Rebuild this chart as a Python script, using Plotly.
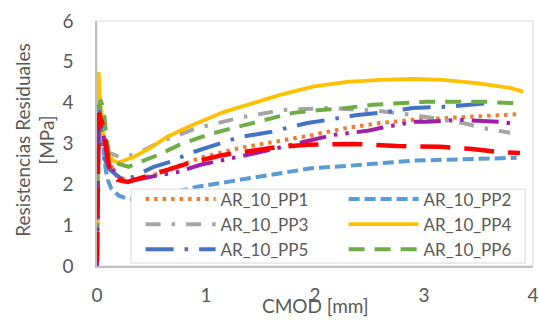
import plotly.graph_objects as go

# ---- data (CMOD [mm] vs residual strength [MPa]) ----
pp1_x = [0, 0.004, 0.02, 0.05, 0.1, 0.18, 0.3, 0.52, 0.75, 0.95, 1.31, 1.65, 1.98, 2.29, 2.6, 2.9, 3.17, 3.48, 3.79, 3.88]
pp1_y = [0, 2.0, 3.6, 3.1, 2.6, 2.2, 2.07, 2.23, 2.45, 2.65, 2.89, 3.04, 3.21, 3.38, 3.5, 3.58, 3.62, 3.65, 3.70, 3.72]

pp2_x = [0, 0.004, 0.02, 0.06, 0.08, 0.1, 0.13, 0.2, 0.3, 0.4, 0.61, 0.79, 0.92, 1.31, 1.68, 1.98, 2.29, 2.6, 2.9, 3.17, 3.48, 3.85]
pp2_y = [0, 2.0, 3.6, 2.9, 2.35, 2.1, 1.9, 1.72, 1.63, 1.63, 1.74, 1.86, 1.94, 2.11, 2.28, 2.4, 2.45, 2.52, 2.58, 2.6, 2.62, 2.65]

pp3_x = [0, 0.004, 0.025, 0.06, 0.1, 0.15, 0.21, 0.3, 0.4, 0.58, 0.76, 0.92, 1.34, 1.54, 1.71, 2.14, 2.57, 2.9, 3.15, 3.36, 3.54, 3.79]
pp3_y = [0, 2.2, 3.9, 3.0, 2.78, 2.72, 2.67, 2.7, 2.79, 3.04, 3.21, 3.38, 3.65, 3.75, 3.82, 3.87, 3.80, 3.70, 3.60, 3.50, 3.38, 3.26]

pp4_x = [0, 0.004, 0.014, 0.03, 0.06, 0.1, 0.14, 0.19, 0.33, 0.49, 0.64, 0.84, 1.16, 1.47, 1.68, 1.98, 2.29, 2.6, 2.9, 3.17, 3.48, 3.79, 3.91]
pp4_y = [0, 3.0, 4.75, 4.0, 3.2, 2.8, 2.6, 2.53, 2.66, 2.89, 3.16, 3.41, 3.77, 4.02, 4.19, 4.39, 4.51, 4.56, 4.58, 4.56, 4.48, 4.36, 4.27]

pp5_x = [0, 0.004, 0.02, 0.06, 0.12, 0.24, 0.33, 0.52, 0.67, 0.86, 1.31, 1.59, 1.74, 1.93, 2.12, 2.39, 2.66, 2.9, 3.21, 3.48, 3.6]
pp5_y = [0, 2.2, 3.95, 2.67, 2.35, 2.1, 2.18, 2.43, 2.55, 2.77, 3.16, 3.28, 3.38, 3.50, 3.58, 3.70, 3.77, 3.87, 3.90, 3.97, 3.99]

pp6_x = [0, 0.004, 0.03, 0.06, 0.08, 0.11, 0.2, 0.29, 0.4, 0.56, 0.76, 1.01, 1.29, 1.53, 1.8, 2.05, 2.29, 2.53, 2.8, 3.02, 3.3, 3.56, 3.81, 3.9]
pp6_y = [0, 2.5, 4.07, 3.87, 3.33, 2.72, 2.5, 2.43, 2.55, 2.72, 2.97, 3.21, 3.41, 3.58, 3.75, 3.82, 3.87, 3.95, 4.0, 4.02, 4.02, 4.02, 3.99, 3.97]

pp7_x = [0, 0.004, 0.015, 0.06, 0.1, 0.2, 0.3, 0.58, 0.74, 0.95, 1.31, 1.5, 1.93, 2.17, 2.48, 2.6, 2.9, 3.02, 3.33, 3.54, 3.69, 3.85]
pp7_y = [0, 2.0, 3.72, 3.2, 2.55, 2.15, 2.08, 2.23, 2.30, 2.48, 2.67, 2.79, 3.06, 3.21, 3.31, 3.38, 3.53, 3.53, 3.58, 3.55, 3.53, 3.48]

pp8_x = [0, 0.004, 0.015, 0.06, 0.1, 0.12, 0.19, 0.28, 0.64, 0.84, 1.16, 1.68, 1.93, 2.35, 2.75, 3.15, 3.42, 3.69, 3.88]
pp8_y = [0.1, 1.8, 3.75, 3.41, 2.6, 2.28, 2.11, 2.06, 2.35, 2.52, 2.72, 2.92, 2.97, 2.99, 2.94, 2.92, 2.87, 2.79, 2.77]

series_names = ["AR_10_PP1", "AR_10_PP2", "AR_10_PP3", "AR_10_PP4", "AR_10_PP5", "AR_10_PP6", "AR_10_PP7", "AR_10_PP8"]
series_x = [pp1_x, pp2_x, pp3_x, pp4_x, pp5_x, pp6_x, pp7_x, pp8_x]
series_y = [pp1_y, pp2_y, pp3_y, pp4_y, pp5_y, pp6_y, pp7_y, pp8_y]
series_color = ["#ED7D31", "#5B9BD5", "#A5A5A5", "#FFC000", "#4472C4", "#70AD47", "#A11FA6", "#FF0000"]
series_dash = ["3.5px,5px", "11px,5px", "15px,11px,3.5px,11px", "solid", "28px,11px,3.5px,11px",
               "16px,10px", "27px,8px,3.5px,8px,3.5px,8px", "30px,14px"]
series_width = [4, 4, 4, 3.8, 4, 4, 4, 4.5]
series_legend = [True, True, True, True, True, True, False, False]

tick_vals_x = [0, 1, 2, 3, 4]
tick_vals_y = [0, 1, 2, 3, 4, 5, 6]

FONT = "Lato"
TXT = "#595959"

fig = go.Figure()
for nm, xs, ys, c, d, w, sl in zip(series_names, series_x, series_y, series_color,
                                   series_dash, series_width, series_legend):
    fig.add_trace(go.Scatter(x=xs, y=ys, name=nm, mode="lines",
                             line=dict(color=c, dash=d, width=w),
                             showlegend=sl))

fig.update_layout(
    width=538, height=320,
    margin=dict(l=97, r=5, t=21, b=54, autoexpand=False),
    paper_bgcolor="white", plot_bgcolor="white",
    font=dict(family=FONT, color=TXT, size=19),
    showlegend=True,
    legend=dict(orientation="h", x=0.1, y=0.345, xanchor="left", yanchor="top",
                borderwidth=0, bgcolor="rgba(0,0,0,0)",
                font=dict(family=FONT, size=17, color=TXT),
                entrywidth=118, entrywidthmode="pixels", itemwidth=70,
                tracegroupgap=0),
    xaxis=dict(range=[0, 4], tickvals=tick_vals_x, showgrid=False, zeroline=False,
               showline=True, linecolor="#BFBFBF", linewidth=1.5,
               ticks="outside", ticklen=11, tickcolor="rgba(0,0,0,0)",
               ticklabeloverflow="allow",
               tickfont=dict(size=19, color=TXT, family=FONT)),
    yaxis=dict(range=[0, 6], tickvals=tick_vals_y, showgrid=False, zeroline=False,
               showline=True, linecolor="#BFBFBF", linewidth=1.5,
               ticks="outside", ticklen=18, tickcolor="rgba(0,0,0,0)",
               tickfont=dict(size=19, color=TXT, family=FONT)),
    shapes=[
        dict(type="rect", xref="paper", yref="paper", x0=0, x1=1, y0=0, y1=1,
             line=dict(color="#D9D9D9", width=1), layer="below"),
        dict(type="rect", xref="paper", yref="paper", x0=0.078, x1=0.982, y0=0.012, y1=0.314,
             line=dict(color="#D9D9D9", width=1), fillcolor="white", layer="above"),
    ],
    annotations=[
        dict(text="CMOD [mm]", xref="paper", yref="paper", x=0.5, y=-0.16,
             xanchor="center", yanchor="middle", showarrow=False,
             font=dict(size=19, color=TXT, family=FONT)),
        dict(text="Resistencias Residuales<br>[MPa]", xref="paper", yref="paper",
             x=-0.143, y=0.514, xanchor="center", yanchor="middle", textangle=-90,
             showarrow=False, font=dict(size=19, color=TXT, family=FONT)),
    ],
)

fig.write_html("out.html")
